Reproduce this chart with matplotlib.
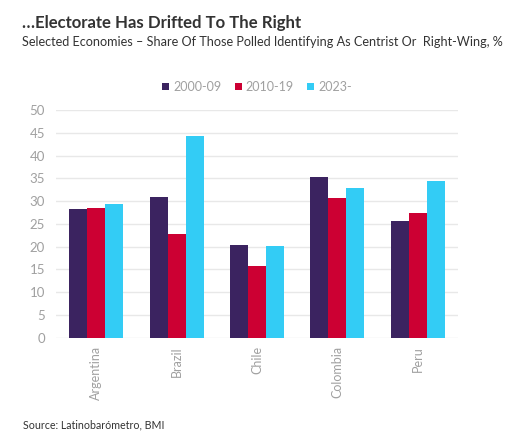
import numpy as np
import matplotlib.pyplot as plt

plt.rcParams['font.family'] = ['Lato', 'DejaVu Sans']

countries = ["Argentina", "Brazil", "Chile", "Colombia", "Peru"]
periods = ["2000-09", "2010-19", "2023-"]
v_2000 = [28.3, 31.0, 20.4, 35.3, 25.6]
v_2010 = [28.4, 22.7, 15.7, 30.6, 27.3]
v_2023 = [29.4, 44.4, 20.2, 32.9, 34.5]
colors = ["#3b2360", "#cc0033", "#33ccf5"]

fig = plt.figure(figsize=(5.14, 4.34), dpi=100)
ax = fig.add_axes([0.109, 0.222, 0.782, 0.5245])

x = np.arange(len(countries))
w = 0.224
for i, (vals, lab) in enumerate(zip([v_2000, v_2010, v_2023], periods)):
    ax.bar(x + (i - 1) * w, vals, width=w, color=colors[i], label=lab, zorder=3)

ax.set_ylim(0, 50)
ax.set_xlim(-0.5, len(countries) - 0.5)
ax.set_yticks(range(0, 51, 5))
ax.grid(axis='y', color='#e8e8e8', linewidth=1, zorder=0)
for s in ax.spines.values():
    s.set_visible(False)
ax.tick_params(axis='y', length=0, labelsize=9.5, labelcolor='#a0a0a0', pad=8)
ax.tick_params(axis='x', length=0, labelsize=9, labelcolor='#a0a0a0', pad=6)
ax.set_xticks(x)
ax.set_xticklabels(countries, rotation=90, va='top')

fig.text(0.043, 0.935, "…Electorate Has Drifted To The Right", fontsize=12.1,
         fontweight='bold', color='#333333', va='baseline')
fig.text(0.043, 0.893, "Selected Economies – Share Of Those Polled Identifying As Centrist Or  Right-Wing, %",
         fontsize=9.1, color='#333333', va='baseline')
fig.legend(loc='center', bbox_to_anchor=(0.5, 0.8), ncol=3, frameon=False,
           fontsize=9, labelcolor='#a0a0a0', handlelength=0.55, handleheight=0.55,
           handletextpad=0.3, columnspacing=1.1)
fig.text(0.045, 0.013, "Source: Latinobarómetro, BMI", fontsize=7.7, color='#333333')

fig.savefig("out.png", dpi=100)
